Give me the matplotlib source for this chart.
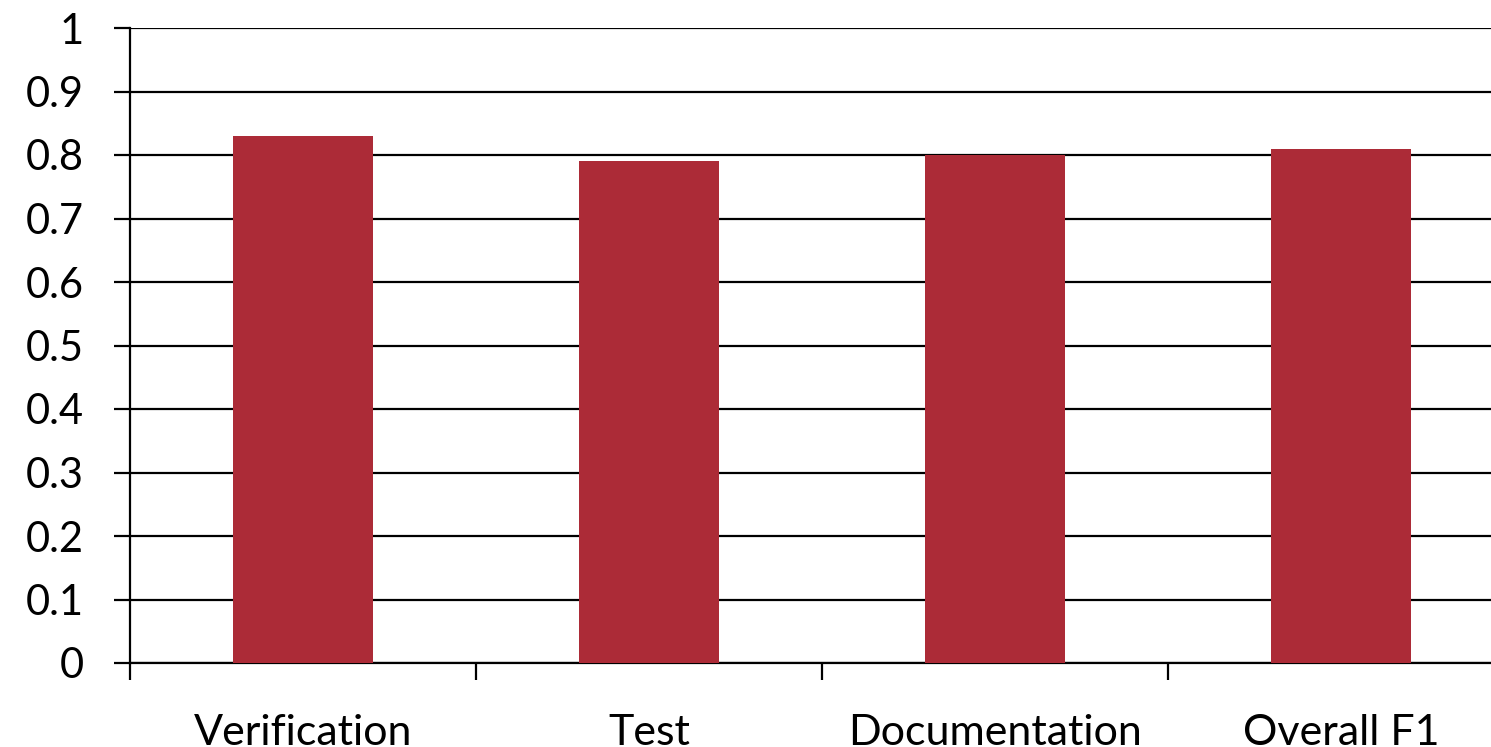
import numpy as np
import matplotlib
matplotlib.use("Agg")
import matplotlib.pyplot as plt
from matplotlib.ticker import FixedLocator

categories = ["Verification", "Test", "Documentation", "Overall F1"]
scores = [0.83, 0.79, 0.80, 0.81]
y_ticks = [0, 0.1, 0.2, 0.3, 0.4, 0.5, 0.6, 0.7, 0.8, 0.9, 1]
y_labels = ["0", "0.1", "0.2", "0.3", "0.4", "0.5", "0.6", "0.7", "0.8", "0.9", "1"]

plt.rcParams["font.family"] = ["Lato", "DejaVu Sans"]

fig = plt.figure(figsize=(14.91, 7.47), dpi=100)
# axes runs a bit past the right edge, like the cropped original
ax = fig.add_axes([130 / 1491, 84 / 747, 1384 / 1491, 635 / 747])

x = np.arange(len(categories))
ax.bar(x, scores, width=0.405, color="#AC2B37", zorder=3)

ax.set_xlim(-0.5, len(categories) - 0.5)
ax.set_ylim(0, 1)
ax.set_yticks(y_ticks)
ax.set_yticklabels(y_labels, fontsize=30)
ax.set_xticks(x)
ax.set_xticklabels(categories, fontsize=31)
ax.xaxis.set_minor_locator(FixedLocator(np.arange(-0.5, len(categories), 1.0)))

ax.grid(axis="y", color="black", linewidth=1.6, zorder=0)
ax.tick_params(axis="y", length=11.5, width=1.6, pad=22)
ax.tick_params(axis="x", which="major", length=0, pad=37)
ax.tick_params(axis="x", which="minor", length=12, width=1.6)

for side in ["top", "right"]:
    ax.spines[side].set_visible(False)
ax.spines["left"].set_linewidth(1.6)
ax.spines["bottom"].set_linewidth(1.6)

fig.savefig("out.png", dpi=100)
